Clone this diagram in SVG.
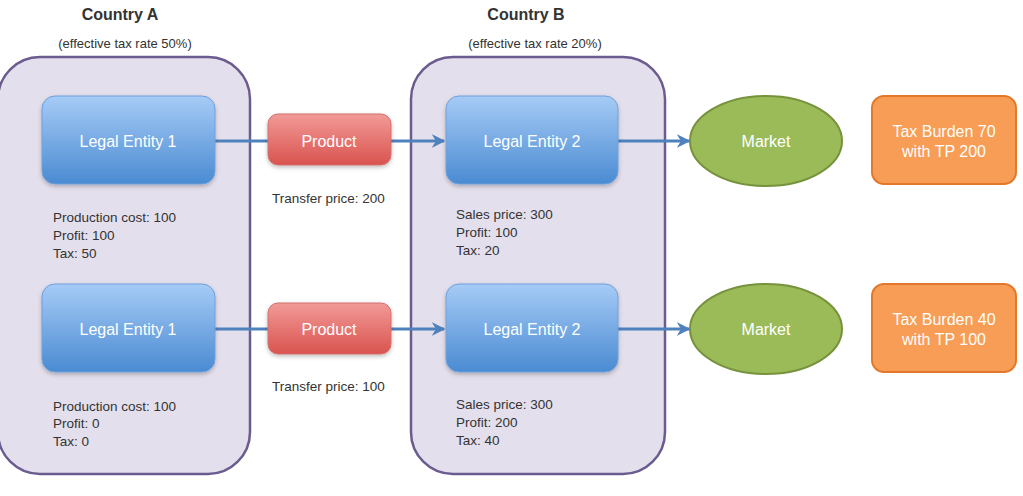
<svg xmlns="http://www.w3.org/2000/svg" width="1023" height="496" viewBox="0 0 1023 496">
<defs>
<linearGradient id="gBlue" x1="0" y1="0" x2="0" y2="1"><stop offset="0" stop-color="#a6cbf6"/><stop offset="1" stop-color="#4a8bd2"/></linearGradient>
<linearGradient id="gRed" x1="0" y1="0" x2="0" y2="1"><stop offset="0" stop-color="#f29a97"/><stop offset="1" stop-color="#d9534f"/></linearGradient>
<marker id="arr" viewBox="0 0 10 10" refX="9" refY="5" markerWidth="4.5" markerHeight="4.5" orient="auto"><path d="M0,0 L10,5 L0,10 L3,5 z" fill="#4f81bd"/></marker>
<filter id="sh" x="-10%" y="-10%" width="130%" height="140%"><feDropShadow dx="0" dy="2" stdDeviation="2" flood-color="#000" flood-opacity="0.25"/></filter>
</defs>
<style>
.cont{fill:#e4dfec;stroke:#6b5b8e;stroke-width:2.5}
.le{fill:url(#gBlue);stroke:#6fa0dc;stroke-width:1;filter:url(#sh)}
.pr{fill:url(#gRed);stroke:#d0706c;stroke-width:1;filter:url(#sh)}
.mk{fill:#9bbb59;stroke:#76923c;stroke-width:2}
.tb{fill:#f79d55;stroke:#e3782a;stroke-width:2}
.wt{font-family:"Liberation Sans",Arial,sans-serif;font-size:16px;fill:#ffffff;text-anchor:middle}
.bt{font-family:"Liberation Sans",Arial,sans-serif;font-size:13.5px;fill:#333333}
.hd{font-family:"Liberation Sans",Arial,sans-serif;font-size:16px;font-weight:bold;fill:#333333;text-anchor:middle}
.sub{font-family:"Liberation Sans",Arial,sans-serif;font-size:13px;fill:#333333;text-anchor:middle}
.cn{stroke:#4f81bd;stroke-width:3;fill:none}
</style>
<g id="countryA">
<rect class="cont" x="-2" y="57" width="252" height="417" rx="42"/>
<text class="hd" x="120" y="20">Country A</text>
<text class="sub" x="125" y="48">(effective tax rate 50%)</text>
</g>
<g id="countryB">
<rect class="cont" x="411" y="57" width="254" height="417" rx="42"/>
<text class="hd" x="526" y="20">Country B</text>
<text class="sub" x="535" y="48">(effective tax rate 20%)</text>
</g>
<g id="connectors">
<line class="cn" x1="215" y1="141" x2="268" y2="141"/>
<line class="cn" x1="391" y1="141" x2="444" y2="141" marker-end="url(#arr)"/>
<line class="cn" x1="618" y1="141" x2="689" y2="141" marker-end="url(#arr)"/>
<line class="cn" x1="215" y1="329" x2="268" y2="329"/>
<line class="cn" x1="391" y1="329" x2="444" y2="329" marker-end="url(#arr)"/>
<line class="cn" x1="618" y1="329" x2="689" y2="329" marker-end="url(#arr)"/>
</g>
<g id="le1-top"><rect class="le" x="42" y="96" width="173" height="88" rx="13"/><text class="wt" x="128" y="147">Legal Entity 1</text></g>
<g id="product-top"><rect class="pr" x="268" y="114" width="123" height="51" rx="10"/><text class="wt" x="329" y="147">Product</text></g>
<g id="le2-top"><rect class="le" x="446" y="96" width="172" height="88" rx="13"/><text class="wt" x="532" y="147">Legal Entity 2</text></g>
<g id="market-top"><ellipse class="mk" cx="766" cy="141" rx="76" ry="45"/><text class="wt" x="766" y="147">Market</text></g>
<g id="tax-top"><rect class="tb" x="872" y="96" width="144" height="88" rx="12"/><text class="wt" x="944" y="137">Tax Burden 70</text><text class="wt" x="944" y="157">with TP 200</text></g>
<g id="le1-bottom"><rect class="le" x="42" y="284" width="173" height="88" rx="13"/><text class="wt" x="128" y="335">Legal Entity 1</text></g>
<g id="product-bottom"><rect class="pr" x="268" y="303" width="123" height="51" rx="10"/><text class="wt" x="329" y="335">Product</text></g>
<g id="le2-bottom"><rect class="le" x="446" y="284" width="172" height="88" rx="13"/><text class="wt" x="532" y="335">Legal Entity 2</text></g>
<g id="market-bottom"><ellipse class="mk" cx="766" cy="329" rx="76" ry="45"/><text class="wt" x="766" y="335">Market</text></g>
<g id="tax-bottom"><rect class="tb" x="872" y="284" width="144" height="88" rx="12"/><text class="wt" x="944" y="325">Tax Burden 40</text><text class="wt" x="944" y="345">with TP 100</text></g>
<g id="labels">
<text class="bt" x="53" y="222">Production cost: 100</text>
<text class="bt" x="53" y="240">Profit: 100</text>
<text class="bt" x="53" y="258">Tax: 50</text>
<text class="bt" x="272" y="203">Transfer price: 200</text>
<text class="bt" x="456" y="219">Sales price: 300</text>
<text class="bt" x="456" y="237">Profit: 100</text>
<text class="bt" x="456" y="255">Tax: 20</text>
<text class="bt" x="53" y="411">Production cost: 100</text>
<text class="bt" x="53" y="428">Profit: 0</text>
<text class="bt" x="53" y="446">Tax: 0</text>
<text class="bt" x="272" y="391">Transfer price: 100</text>
<text class="bt" x="456" y="409">Sales price: 300</text>
<text class="bt" x="456" y="427">Profit: 200</text>
<text class="bt" x="456" y="445">Tax: 40</text>
</g>
</svg>
